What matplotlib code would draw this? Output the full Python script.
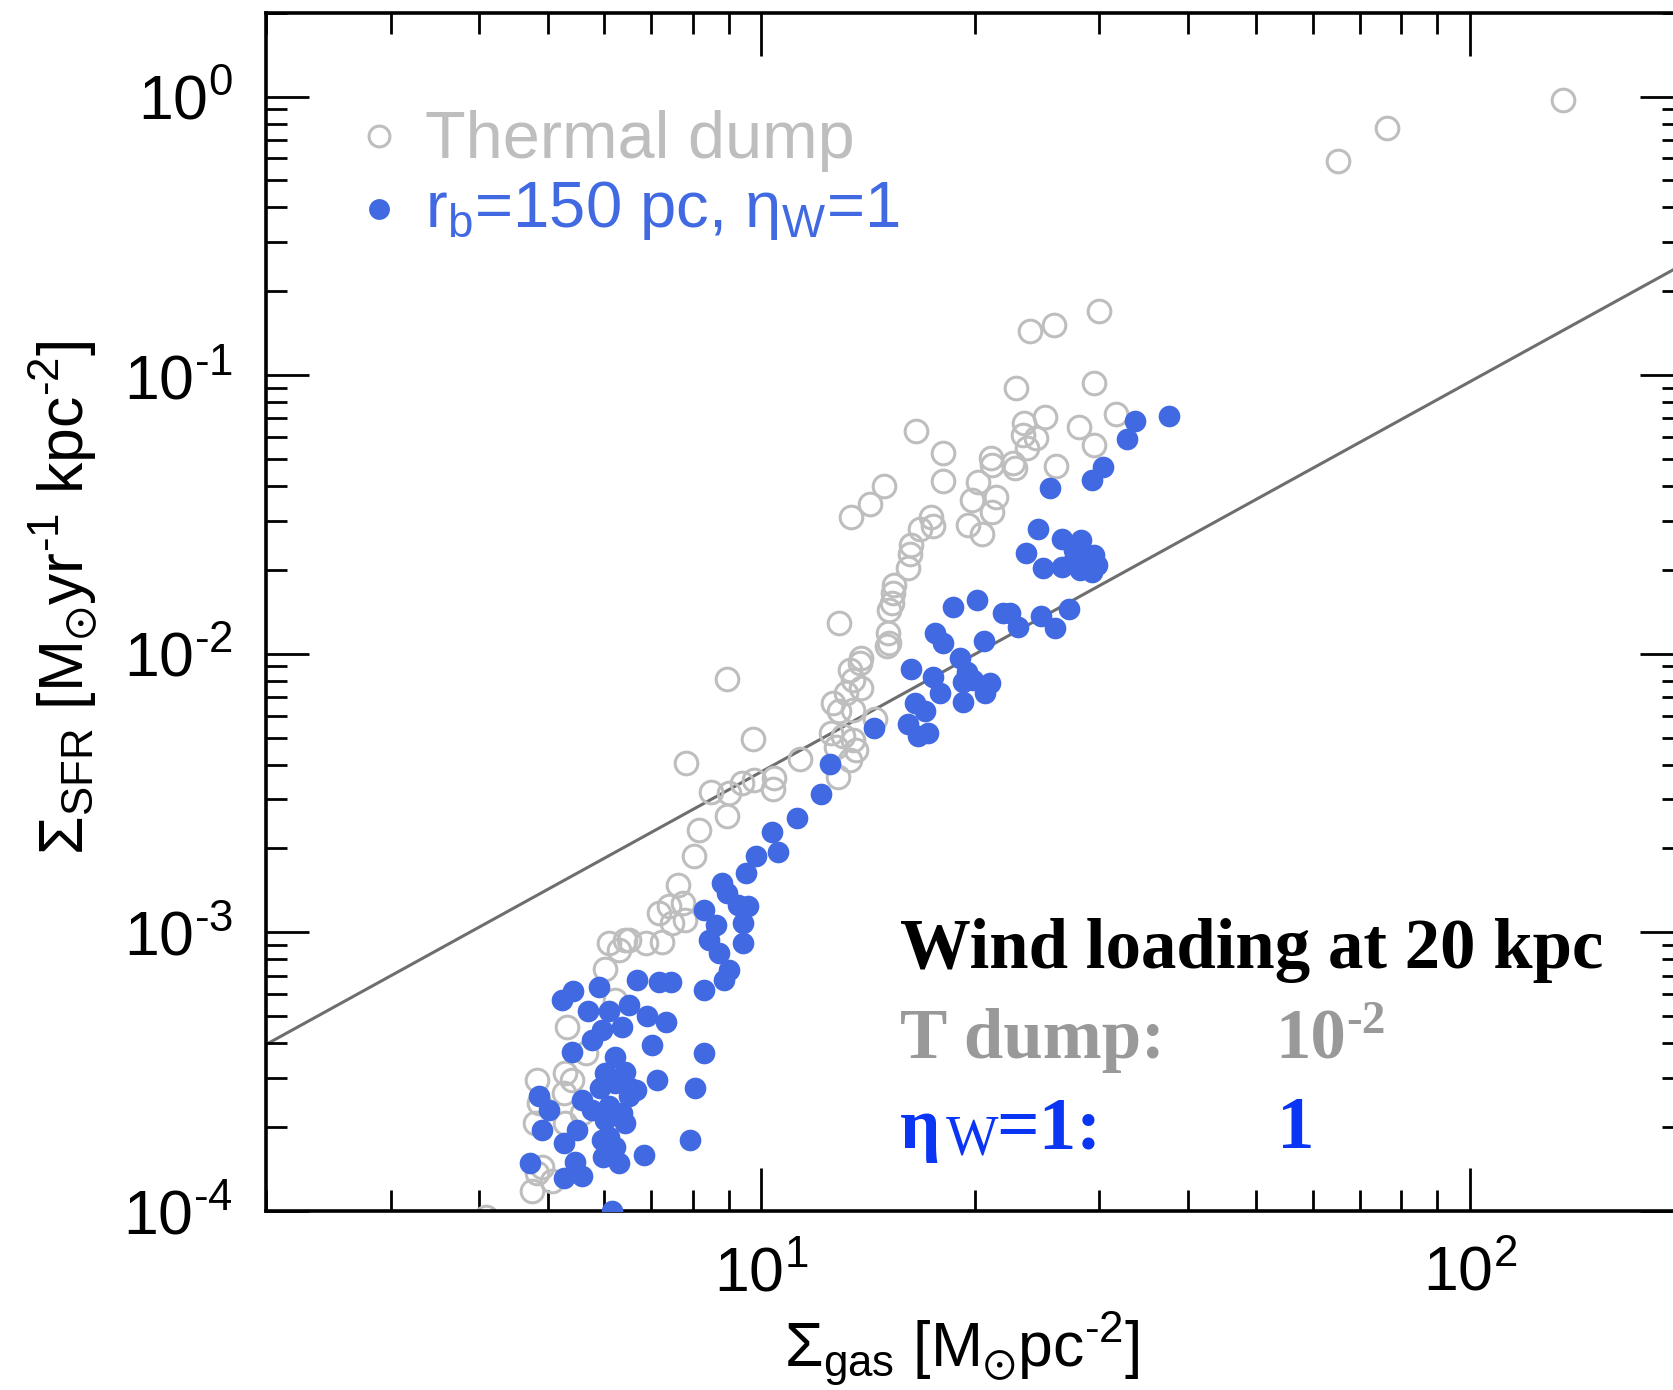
import numpy as np
import matplotlib
matplotlib.use('Agg')
import matplotlib.pyplot as plt
from matplotlib.ticker import LogLocator, NullFormatter, FuncFormatter

plt.rcParams['font.family'] = ['Liberation Sans', 'DejaVu Sans']
plt.rcParams['mathtext.fontset'] = 'custom'
plt.rcParams['mathtext.rm'] = 'Liberation Sans'
plt.rcParams['mathtext.it'] = 'Liberation Sans:italic'
plt.rcParams['mathtext.bf'] = 'Liberation Sans:bold'
plt.rcParams['mathtext.default'] = 'regular'
plt.rcParams['axes.unicode_minus'] = False

# log10 Sigma_gas, log10 Sigma_SFR  -- thermal dump run
thermal_lgas = [1.814, 1.883, 2.132,
                1.477, 1.379, 1.413, 1.359, 1.469, 1.218, 1.256, 1.256, 1.173, 1.153, 1.126,
                1.401, 1.371, 1.370, 1.388, 1.375, 1.448, 1.469, 1.501, 1.416, 1.324, 1.325,
                1.356, 1.358, 1.306, 1.297, 1.332, 1.325, 1.292, 1.311, 1.240, 1.242, 1.224,
                1.212, 1.210, 1.207, 1.188, 1.186, 1.184, 1.181, 1.110, 1.179, 1.181, 1.141, 1.178,
                0.952, 0.988, 0.894, 1.055, 0.929, 0.955, 0.973, 0.990, 1.018, 1.016, 0.951,
                0.912, 0.905,
                1.125, 1.139, 1.129, 1.141, 1.120, 1.101, 1.129, 1.110, 1.160, 1.099, 1.115,
                1.129, 1.106, 1.134, 1.125, 1.108,
                0.883, 0.870, 0.889, 0.856, 0.893, 0.874, 0.813, 0.837, 0.860,
                0.785, 0.808, 0.799, 0.780, 0.794, 0.726, 0.752, 0.683, 0.723, 0.733, 0.721,
                0.686, 0.681, 0.747, 0.723, 0.690, 0.704, 0.676, 0.612, 0.684]
thermal_lsfr = [-0.230, -0.113, -0.011,
                -0.769, -0.840, -0.821, -1.046, -1.029, -1.200, -1.280, -1.379, -1.397, -1.463, -1.508,
                -1.149, -1.172, -1.214, -1.226, -1.262, -1.187, -1.250, -1.140, -1.326, -1.298, -1.322,
                -1.316, -1.334, -1.385, -1.448, -1.438, -1.490, -1.537, -1.570, -1.508, -1.543, -1.553,
                -1.609, -1.641, -1.693, -1.753, -1.783, -1.818, -1.842, -1.890, -1.926, -1.962, -2.016, -1.974,
                -2.091, -2.307, -2.391, -2.378, -2.495, -2.500, -2.464, -2.453, -2.446, -2.486, -2.582,
                -2.632, -2.725,
                -2.058, -2.034, -2.094, -2.124, -2.141, -2.177, -2.201, -2.207, -2.235, -2.285, -2.297,
                -2.309, -2.333, -2.345, -2.381, -2.441,
                -2.829, -2.907, -2.895, -2.931, -2.955, -2.967, -3.027, -3.039, -3.033,
                -3.039, -3.027, -3.063, -3.132, -3.242, -3.338, -3.434, -3.529, -3.505, -3.529, -3.577,
                -3.613, -3.685, -3.649, -3.685, -3.841, -3.894, -3.930, -4.020, -3.864]

# log10 Sigma_gas, log10 Sigma_SFR  -- r_b = 150 pc, eta_W = 1 run
wind_lgas = [1.575, 1.528, 1.516, 1.483, 1.467, 1.408, 1.391, 1.424, 1.452, 1.441, 1.469, 1.460,
             1.474, 1.373, 1.398, 1.424, 1.450, 1.467, 1.441, 1.270, 1.304, 1.341, 1.351, 1.363,
             1.435, 1.395, 1.415, 1.245, 1.257, 1.314, 1.280,
             1.212, 1.243, 1.252, 1.290, 1.299, 1.285, 1.323, 1.316, 1.285, 1.217, 1.231, 1.207,
             1.221, 1.236, 1.159, 1.097, 1.085, 1.051, 1.015, 1.023, 0.992, 0.978, 0.945, 0.952,
             0.981, 0.967, 0.919, 0.936, 0.974, 0.926, 0.974, 0.941,
             0.955, 0.948, 0.919, 0.825, 0.856, 0.872, 0.771,
             0.813, 0.735, 0.719, 0.756, 0.785, 0.804, 0.839, 0.865, 0.846, 0.919, 0.907, 0.900,
             0.834, 0.853, 0.815, 0.775, 0.761, 0.733, 0.794, 0.808, 0.780, 0.794, 0.773, 0.747,
             0.761, 0.785, 0.804, 0.780, 0.686, 0.700, 0.690, 0.721, 0.740, 0.775, 0.794, 0.777,
             0.799, 0.674, 0.737, 0.721, 0.747, 0.789,
             0.813, 0.823, 0.808, 0.785]
wind_lsfr = [-1.145, -1.164, -1.229, -1.330, -1.378, -1.406, -1.553, -1.589, -1.591, -1.627, -1.645, -1.669,
             -1.681, -1.639, -1.693, -1.687, -1.699, -1.705, -1.663, -1.831, -1.807, -1.852, -1.854, -1.905,
             -1.839, -1.866, -1.908, -1.926, -1.962, -1.956, -2.016,
             -2.055, -2.082, -2.141, -2.064, -2.094, -2.100, -2.106, -2.141, -2.172, -2.177, -2.207, -2.252,
             -2.297, -2.283, -2.267, -2.396, -2.504, -2.588, -2.640, -2.710, -2.725, -2.788, -2.823, -2.859,
             -2.907, -2.901, -2.919, -2.973, -2.967, -3.027, -3.037, -3.075,
             -3.135, -3.171, -3.206, -3.171, -3.177, -3.177, -3.195,
             -3.260, -3.212, -3.242, -3.284, -3.284, -3.338, -3.302, -3.320, -3.404, -3.434, -3.559, -3.745,
             -3.799, -3.529, -3.559, -3.350, -3.386, -3.428, -3.446, -3.500, -3.505, -3.541, -3.559, -3.601,
             -3.637, -3.625, -3.649, -3.673, -3.589, -3.637, -3.709, -3.757, -3.709, -3.745, -3.769, -3.805,
             -3.829, -3.829, -3.823, -3.882, -3.876, -4.000,
             -3.589, -3.565, -3.685, -3.733]

# Kennicutt-Schmidt relation
ks_norm = 1.5e-4
ks_index = 1.4
ks_gas = np.array([2.0, 200.0])

gray = '#bebebe'
blue = '#4169e1'
HY = '\u2010'  # short hyphen for exponents


def pow10(v, pos):
    e = int(round(np.log10(v)))
    return r'$10^{%s}$' % str(e).replace('-', HY)


fig = plt.figure(figsize=(16.74, 13.9), dpi=100)
ax = fig.add_axes([0.1589, 0.1288, 0.8465, 0.8621])

ax.plot(ks_gas, ks_norm * ks_gas ** ks_index, color='#6e6e6e', lw=2.2, zorder=1)
ax.plot(10 ** np.array(thermal_lgas), 10 ** np.array(thermal_lsfr), ls='none', marker='o',
        ms=16.3, mfc='none', mec=gray, mew=2.2, zorder=2)
ax.plot(10 ** np.array(wind_lgas), 10 ** np.array(wind_lsfr), ls='none', marker='o',
        ms=15.6, mfc=blue, mec='none', mew=0, zorder=3)

ax.set_xscale('log')
ax.set_yscale('log')
ax.set_xlim(2, 200)
ax.set_ylim(1e-4, 2)
ax.yaxis.set_minor_locator(LogLocator(base=10, subs=np.arange(2, 10), numticks=20))
ax.xaxis.set_minor_locator(LogLocator(base=10, subs=np.arange(2, 10), numticks=20))
ax.xaxis.set_major_formatter(FuncFormatter(pow10))
ax.yaxis.set_major_formatter(FuncFormatter(pow10))
ax.xaxis.set_minor_formatter(NullFormatter())
ax.yaxis.set_minor_formatter(NullFormatter())
ax.tick_params(which='both', direction='in', top=True, right=True, width=2.0, color='black')
ax.tick_params(which='major', length=31, labelsize=45)
ax.tick_params(which='minor', length=15)
ax.tick_params(axis='x', which='major', pad=24)
ax.tick_params(axis='y', which='major', pad=24)
for sp in ax.spines.values():
    sp.set_linewidth(2.6)

ax.set_xlabel(r'$\Sigma_{gas}$ [M$_{\odot}$pc$^{%s2}$]' % HY, fontsize=45)
ax.set_ylabel(r'$\Sigma_{SFR}$ [M$_{\odot}$yr$^{%s1}$ kpc$^{%s2}$]' % (HY, HY), fontsize=45)
ax.xaxis.set_label_coords(0.491, -0.083)
ax.yaxis.set_label_coords(-0.117, 0.512)

# legend
ax.plot([0.0797], [0.8974], transform=ax.transAxes, marker='o', ms=15, mfc='none',
        mec=gray, mew=2.2, ls='none')
ax.plot([0.0797], [0.8362], transform=ax.transAxes, marker='o', ms=15, mfc=blue,
        mec='none', ls='none')
fig.text(0.2539, 0.8863, 'Thermal dump', color=gray, fontsize=48, va='baseline')
fig.text(0.2539, 0.8367, r'r$_{b}$=150 pc, η$_{W}$=1', color=blue, fontsize=47, va='baseline')

# annotation
serif = ['Liberation Serif', 'DejaVu Serif']
tgray = '#999999'
tblue = '#0a35f5'
fig.text(0.5376, 0.3036, 'Wind loading at 20 kpc', family=serif, weight='bold',
         fontsize=51, va='baseline', color='black')
fig.text(0.5376, 0.2388, 'T dump:', family=serif, weight='bold', fontsize=51,
         va='baseline', color=tgray)
fig.text(0.7616, 0.2388, '10', family=serif, weight='bold', fontsize=51,
         va='baseline', color=tgray)
fig.text(0.8040, 0.2568, '-2', family=serif, weight='bold', fontsize=34,
         va='baseline', color=tgray)
fig.text(0.5376, 0.1741, 'η', family=serif, weight='bold', fontsize=51,
         va='baseline', color=tblue)
fig.text(0.5651, 0.1691, 'W', family=serif, fontsize=40, va='baseline', color=tblue)
fig.text(0.5950, 0.1741, '=1:', family=serif, weight='bold', fontsize=54,
         va='baseline', color=tblue)
fig.text(0.7628, 0.1741, '1', family=serif, weight='bold', fontsize=54,
         va='baseline', color=tblue)

fig.savefig('out.png', dpi=100)
